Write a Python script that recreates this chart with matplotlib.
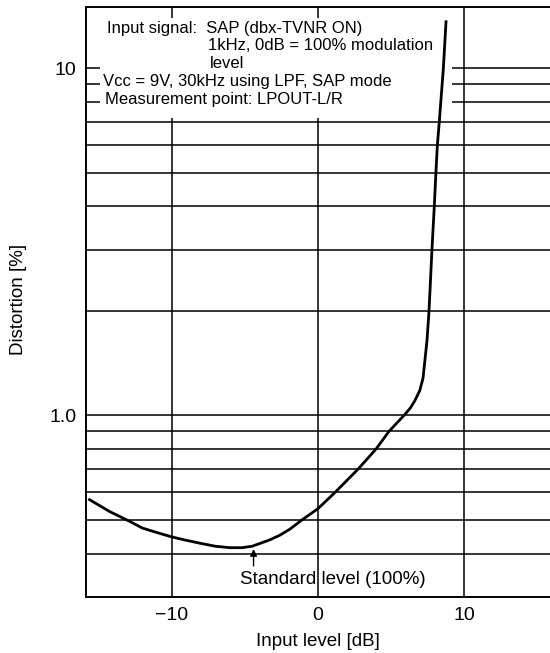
import matplotlib.pyplot as plt
from matplotlib.patches import Rectangle

plt.rcParams['font.family'] = ['Liberation Sans', 'DejaVu Sans']

# Distortion curve
level_db = [-15.6, -14.2, -12.8, -12.0, -11.0, -10.0, -9.0, -8.0, -7.0, -6.0,
            -5.2, -4.5, -3.3, -2.6, -1.9, -1.1, 0.0, 1.16, 2.73, 3.96,
            4.85, 5.87, 6.3, 6.6, 6.95, 7.17, 7.44, 7.58, 7.78, 7.94,
            8.05, 8.15, 8.28, 8.56, 8.74]
distortion = [0.572, 0.528, 0.494, 0.474, 0.46, 0.447, 0.437, 0.428, 0.42, 0.416,
              0.416, 0.42, 0.438, 0.452, 0.471, 0.5, 0.539, 0.6, 0.7, 0.8,
              0.9, 1.0, 1.05, 1.1, 1.18, 1.28, 1.64, 2.0, 3.0, 4.0,
              5.0, 6.0, 7.0, 10.0, 13.6]

x_ticks = [-10, 0, 10]
x_tick_labels = ['\u221210', '0', '10']
y_grid = [0.4, 0.5, 0.6, 0.7, 0.8, 0.9, 1, 2, 3, 4, 5, 6, 7, 8, 9, 10]
y_ticks = [1, 10]
y_tick_labels = ['1.0', '10']

std_level = -4.4
std_dist = 0.42

note_lines = [
    ('Input signal:  SAP (dbx-TVNR ON)', 107),
    ('1kHz, 0dB = 100% modulation', 208),
    ('level', 210),
    ('Vcc = 9V, 30kHz using LPF, SAP mode', 103),
    ('Measurement point: LPOUT-L/R', 105),
]

W, H = 550, 653
fig = plt.figure(figsize=(W / 100, H / 100), dpi=100)
ax = fig.add_axes([86 / W, 1 - 597 / H, 1 - 86 / W, 590 / H])
ax.set_yscale('log')
ax.set_xlim(-15.84, 15.84)
ax.set_ylim(0.3, 15)

for v in y_grid:
    ax.axhline(v, color='black', lw=1.1, zorder=1)
for v in x_ticks:
    ax.axvline(v, color='black', lw=1.1, zorder=1)

# white note box covering the grid in the top left
box = Rectangle((100 / W, 1 - 118 / H), 352 / W, 100 / H, transform=fig.transFigure,
                facecolor='white', edgecolor='none', zorder=2, clip_on=False)
ax.add_patch(box)

for i, (txt, xp) in enumerate(note_lines):
    ax.text(xp / W, 1 - (28 + i * 17.8) / H, txt, fontsize=12, transform=fig.transFigure,
            va='center', ha='left', zorder=3)

ax.plot(level_db, distortion, color='black', lw=2.0, zorder=4,
        solid_joinstyle='round')

ax.annotate('', xy=(std_level, std_dist), xytext=(std_level, 0.362),
            arrowprops=dict(arrowstyle='-|>', color='black', lw=1.0,
                            mutation_scale=10))
ax.text(-5.3, 0.337, 'Standard level (100%)', fontsize=13.5, va='center', ha='left')

ax.set_xticks(x_ticks)
ax.set_xticklabels(x_tick_labels, fontsize=14)
ax.set_yticks(y_ticks)
ax.set_yticklabels(y_tick_labels, fontsize=14)
ax.yaxis.set_minor_locator(plt.NullLocator())
ax.tick_params(length=0, pad=7)
ax.set_xlabel('Input level [dB]', fontsize=13.5, labelpad=7)
ax.set_ylabel('Distortion [%]', fontsize=13.5)
ax.yaxis.set_label_coords(-0.128, 0.505)
ax.spines['right'].set_visible(False)
for s in ['left', 'bottom', 'top']:
    ax.spines[s].set_linewidth(1.4)

fig.savefig('out.png', dpi=100)
